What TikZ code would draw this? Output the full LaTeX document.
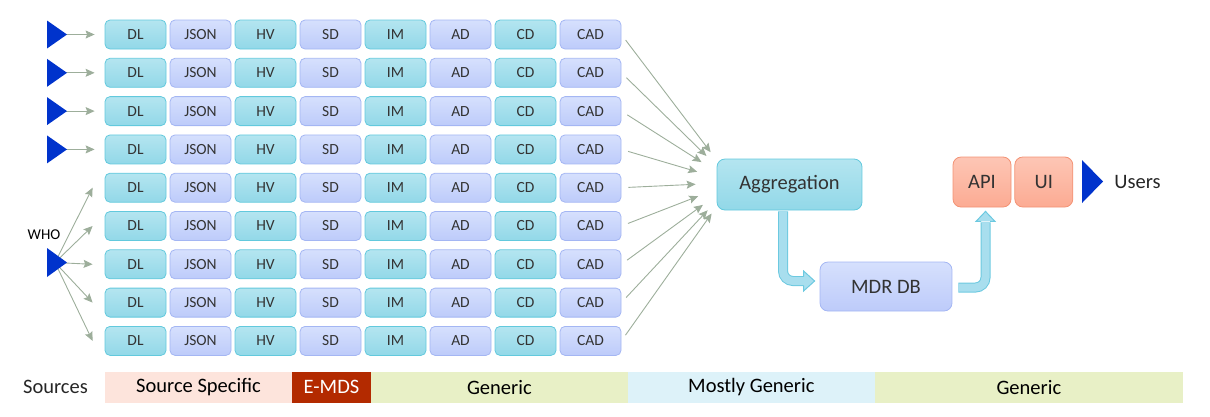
\documentclass[tikz,border=0pt]{standalone}
\usepackage{fontspec}
\setmainfont{Carlito}
\usepackage{tikz}
\usetikzlibrary{positioning, arrows.meta, calc}

\definecolor{tealtop}{HTML}{B4E5F0}
\definecolor{tealbot}{HTML}{92D8E8}
\definecolor{tealedge}{HTML}{62C9DD}
\definecolor{lavtop}{HTML}{D6E0FD}
\definecolor{lavbot}{HTML}{BDCBFA}
\definecolor{lavedge}{HTML}{A4B6F3}
\definecolor{salmtop}{HTML}{FDC6B5}
\definecolor{salmbot}{HTML}{FCAB93}
\definecolor{salmedge}{HTML}{F39274}
\definecolor{srcblue}{HTML}{0033CC}
\definecolor{feedgray}{HTML}{9DAE9B}
\definecolor{pipefill}{HTML}{A8DEEE}
\definecolor{pipeedge}{HTML}{6CC9E0}
\definecolor{bandpink}{HTML}{FDE4DC}
\definecolor{bandred}{HTML}{B32A00}
\definecolor{bandgreen}{HTML}{E8F0C6}
\definecolor{bandblue}{HTML}{DDF2F9}

\begin{document}
\begin{tikzpicture}[x=1pt, y=-1pt,
    cell/.style={rounded corners=5pt, line width=0.8pt, minimum width=61pt, minimum height=29pt,
        inner sep=0pt, font=\fontsize{15.5}{18}\selectfont, text=black!80},
    tealbox/.style={cell, draw=tealedge, top color=tealtop, bottom color=tealbot},
    lavbox/.style={cell, draw=lavedge, top color=lavtop, bottom color=lavbot},
    salmbox/.style={cell, draw=salmedge, top color=salmtop, bottom color=salmbot},
    bigtext/.style={font=\fontsize{20.5}{24}\selectfont, text=black!85},
    feed/.style={feedgray, line width=0.9pt, -{Stealth[length=9pt, width=8pt, inset=1.5pt]}},
    pipe/.style={line width=1pt, draw=pipeedge, double=pipefill, double distance=8pt, rounded corners=10pt},
    band/.style={minimum height=30.7pt, inner sep=0pt, outer sep=0pt, font=\fontsize{20.5}{24}\selectfont}
]
    \useasboundingbox (0,0) rectangle (1210,416);

    % Rows of source cells
    \foreach \i in {1,...,9} {
        \pgfmathsetmacro\ry{34.5+38.3*(\i-1)}
        \foreach \lbl/\sty [count=\j] in {DL/tealbox, JSON/lavbox, HV/tealbox, SD/lavbox,
                                          IM/tealbox, AD/lavbox, CD/tealbox, CAD/lavbox} {
            \pgfmathsetmacro\rx{135.5+65*(\j-1)}
            \node [\sty] (r\i-\j) at (\rx,\ry) {\lbl};
        }
    }

    % Aggregation, database, access
    \node [tealbox, rounded corners=8pt, minimum width=145pt, minimum height=51pt, font=\fontsize{20.5}{24}\selectfont]
        (agg) at (789.5,184.5) {Aggregation};
    \node [lavbox, rounded corners=8pt, minimum width=132pt, minimum height=49pt, font=\fontsize{20.5}{24}\selectfont]
        (mdr) at (886,286.5) {MDR DB};
    \node [salmbox, rounded corners=8pt, minimum width=58pt, minimum height=50pt, font=\fontsize{20.5}{24}\selectfont]
        (api) at (982,182) {API};
    \node [salmbox, rounded corners=8pt, minimum width=58pt, minimum height=50pt, font=\fontsize{20.5}{24}\selectfont,
        right=3pt of api] (ui) {UI};

    % Single sources
    \foreach \i in {1,...,4} {
        \pgfmathsetmacro\ry{34.5+38.3*(\i-1)}
        \coordinate (s\i) at (57,\ry);
        \draw [feed, shorten >=10pt] (s\i) -- (r\i-1.west);
        \fill [srcblue] (47,\ry-14) -- (67,\ry) -- (47,\ry+14) -- cycle;
    }

    % WHO feeds five rows
    \coordinate (who) at (55,262.5);
    \foreach \i in {5,...,9}
        \draw [feed] (who) -- ([xshift=-12pt]r\i-1.west);
    \fill [srcblue] (47,248) -- (67,262.5) -- (47,277) -- cycle;
    \node [font=\fontsize{15}{18}\selectfont] (wholbl) at (44,235) {WHO};

    % Rows into aggregation
    \coordinate (hub) at ($(agg.west)+(17,-2)$);
    \foreach \i in {1,...,9}
        \draw [feed, shorten <=7pt, shorten >=38pt] (r\i-8.east) -- (hub);

    % Aggregation to MDR DB
    \draw [pipe] ($(agg.south)+(-6.5,1)$) |- ($(mdr.west)+(-15,-5.5)$);
    \coordinate (t1) at ($(mdr.west)+(-5,-5.5)$);
    \fill [pipefill] ($(t1)+(-11,-10)$) -- (t1) -- ($(t1)+(-11,10)$) -- cycle;
    \draw [pipeedge, line width=1pt] ($(t1)+(-11,-4.5)$) -- ($(t1)+(-11,-10)$) -- (t1)
        -- ($(t1)+(-11,10)$) -- ($(t1)+(-11,4.5)$);

    % MDR DB to API
    \draw [pipe] ($(mdr.east)+(6,1)$) -| ($(api.south)+(3.5,15)$);
    \coordinate (t2) at ($(api.south)+(3.5,4)$);
    \fill [pipefill] ($(t2)+(-9.5,10)$) -- (t2) -- ($(t2)+(9.5,10)$) -- cycle;
    \draw [pipeedge, line width=1pt] ($(t2)+(-4.5,10)$) -- ($(t2)+(-9.5,10)$) -- (t2)
        -- ($(t2)+(9.5,10)$) -- ($(t2)+(4.5,10)$);

    % Users
    \fill [srcblue] (1082,160) -- (1103,181.5) -- (1082,203) -- cycle;
    \node [bigtext] (users) at (1137.5,182) {Users};

    % Bottom bar
    \node [bigtext] (srclbl) at (55.5,387.3) {Sources};
    \node [band, fill=bandpink, minimum width=187pt, anchor=north west] (spec) at (105,372) {Source Specific};
    \node [band, fill=bandred, text=white, minimum width=79pt, right=0pt of spec] (emds) {E-MDS};
    \node [band, fill=bandgreen, minimum width=256.7pt, right=0pt of emds] (gen1) {Generic};
    \node [band, fill=bandblue, minimum width=247.3pt, right=0pt of gen1] (mgen) {Mostly Generic};
    \node [band, fill=bandgreen, minimum width=307.7pt, right=0pt of mgen] (gen2) {Generic};
\end{tikzpicture}
\end{document}
